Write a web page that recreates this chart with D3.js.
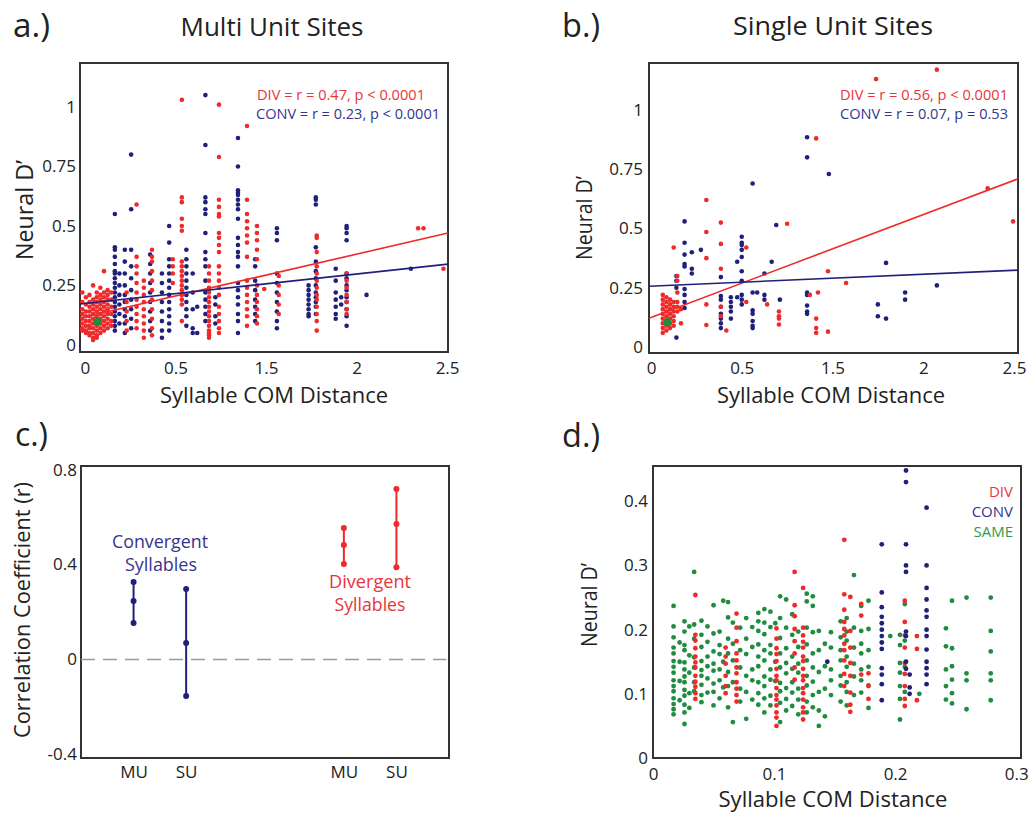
<!DOCTYPE html>
<html><head><meta charset="utf-8">
<script src="https://cdn.jsdelivr.net/npm/d3@7"></script>
<style>body{margin:0;background:#fff;} text{font-family:"Open Sans",sans-serif;fill:#222;}</style>
</head><body>
<script>
// ---------------- DATA ----------------
// Panels a & b: x is the tick-slot position on the COM-distance axis (labels below), y is Neural D'
const abXTicks = [0, 1, 2, 3, 4];
const abXTickLabels = ["0", "0.5", "1.5", "2", "2.5"];
const abYTicks = [0, 0.25, 0.5, 0.75, 1];
const abYTickLabels = ["0", "0.25", "0.5", "0.75", "1"];

// panel a (multi unit) columns: [x, [y values]]
const aDiv = [
  [-0.03,[0.22,0.18,0.15,0.13,0.11,0.09,0.07,0.06]],
  [0.01,[0.20,0.17,0.14,0.12,0.10,0.08,0.06,0.05]],
  [0.05,[0.21,0.18,0.16,0.14,0.12,0.10,0.08,0.07,0.05,0.04]],
  [0.09,[0.25,0.19,0.17,0.15,0.13,0.11,0.09,0.07,0.05,0.03,0.02]],
  [0.13,[0.22,0.20,0.18,0.16,0.14,0.12,0.10,0.08,0.06,0.04,0.03]],
  [0.17,[0.24,0.21,0.19,0.17,0.15,0.13,0.11,0.09,0.07,0.05]],
  [0.21,[0.31,0.22,0.20,0.18,0.16,0.14,0.12,0.10,0.08,0.06]],
  [0.25,[0.23,0.21,0.19,0.17,0.15,0.13,0.11,0.09,0.07]],
  [0.29,[0.22,0.19,0.16,0.13,0.10,0.08]],
  [0.46,[0.22,0.18,0.14,0.10,0.06]],
  [0.57,[0.59,0.37,0.33,0.30,0.26,0.22,0.19,0.16,0.13,0.10,0.07]],
  [0.65,[0.27,0.24,0.21,0.18,0.15,0.12,0.09,0.06,0.03]],
  [0.74,[0.40,0.37,0.35,0.31,0.27,0.23,0.19,0.15,0.11,0.07,0.04]],
  [0.97,[0.36,0.33,0.30,0.26]],
  [1.07,[1.03,0.62,0.60,0.53,0.50,0.48,0.35,0.33,0.31,0.29,0.27,0.25,0.23,0.21,0.19,0.17,0.10]],
  [1.37,[0.33,0.30,0.27,0.24,0.22,0.20,0.18,0.16,0.14,0.12,0.10,0.08,0.06,0.05,0.04,0.03]],
  [1.48,[1.01,0.79,0.61,0.58,0.55,0.54,0.47,0.45,0.42,0.39,0.33,0.30,0.27,0.24,0.21,0.16,0.13,0.10,0.07,0.05]],
  [1.79,[0.92,0.61,0.55,0.52,0.49,0.46,0.43,0.37,0.27,0.24,0.21,0.18,0.15,0.12,0.08]],
  [1.90,[0.50,0.47,0.44,0.40,0.36,0.25,0.21,0.18,0.15,0.12,0.09]],
  [1.98,[0.235]],
  [2.14,[0.29,0.25,0.21,0.17,0.13]],
  [2.56,[0.46,0.45,0.39,0.33,0.30,0.27,0.24,0.21,0.19,0.16,0.13,0.10,0.06]],
  [2.89,[0.30,0.27,0.24,0.21,0.18,0.15,0.13]],
  [3.68,[0.49]],
  [3.74,[0.49]],
  [3.96,[0.32]]
];
const aConv = [
  [0.33,[0.55,0.41,0.40,0.37,0.34,0.31,0.30,0.28,0.26,0.24,0.22,0.20,0.18,0.16,0.14,0.12,0.10,0.08,0.06]],
  [0.38,[0.30,0.25,0.21,0.17,0.13,0.09]],
  [0.44,[0.40,0.35,0.30,0.25,0.21,0.18,0.15,0.12,0.09,0.05]],
  [0.51,[0.80,0.57,0.40,0.33,0.28,0.23,0.19,0.15,0.11,0.07]],
  [0.72,[0.38,0.34,0.30,0.26,0.22,0.18,0.14,0.10,0.06]],
  [0.85,[0.30,0.26,0.22,0.18,0.14,0.10,0.06,0.03]],
  [0.93,[0.50,0.43,0.36,0.33,0.30,0.27,0.24,0.21,0.18,0.15,0.12,0.09,0.06]],
  [1.12,[0.40,0.36,0.33,0.30,0.27,0.24,0.21,0.18,0.15,0.12,0.08]],
  [1.19,[0.30,0.22,0.15,0.07,0.05]],
  [1.24,[0.16,0.05]],
  [1.33,[1.05,0.84,0.62,0.60,0.57,0.55,0.47,0.39,0.36,0.33,0.27,0.22,0.19,0.16,0.13,0.10]],
  [1.44,[0.20,0.17,0.12,0.09]],
  [1.69,[0.87,0.75,0.65,0.64,0.63,0.61,0.59,0.57,0.53,0.45,0.42,0.39,0.37,0.33,0.26,0.23,0.20,0.17,0.13,0.10,0.05]],
  [1.88,[0.36,0.33,0.27,0.23,0.19,0.16,0.13,0.10]],
  [2.12,[0.49,0.47,0.44,0.30,0.26,0.22,0.18,0.14,0.10,0.07]],
  [2.47,[0.25,0.23,0.21,0.19,0.17,0.15,0.13,0.12]],
  [2.55,[0.62,0.61,0.59,0.41,0.35,0.31,0.28,0.25,0.22,0.20,0.18,0.16,0.13]],
  [2.77,[0.32,0.27,0.22,0.19,0.16,0.13,0.11]],
  [2.83,[0.20,0.17]],
  [2.89,[0.50,0.49,0.47,0.44,0.30,0.28,0.25,0.23,0.20,0.18,0.15,0.12,0.08]],
  [3.11,[0.21]],
  [3.60,[0.32]]
];
const aSame = [[0.14,[0.097]]];
const aFitDiv = [0.118, 0.0878];   // [intercept, slope]
const aFitConv = [0.174, 0.0413];
const aStats = ["DIV = r = 0.47, p < 0.0001", "CONV = r = 0.23, p < 0.0001"];

// panel b (single unit)
const bDiv = [
  [0.13,[0.22,0.20,0.18,0.16,0.14,0.12,0.10,0.08,0.06]],
  [0.17,[0.21,0.19,0.17,0.15,0.13,0.11,0.09,0.07]],
  [0.21,[0.20,0.18,0.16,0.14,0.12,0.10,0.08]],
  [0.25,[0.42,0.19,0.17,0.15,0.13,0.11,0.09]],
  [0.29,[0.30,0.28,0.23,0.19,0.17,0.15]],
  [0.33,[0.16,0.10]],
  [0.61,[0.62,0.485,0.375,0.18,0.093]],
  [0.77,[0.525,0.435,0.33,0.17,0.13]],
  [0.83,[0.07]],
  [1.05,[0.42,0.19]],
  [1.28,[0.18]],
  [1.41,[0.15,0.13,0.12,0.095]],
  [1.50,[0.52]],
  [1.75,[0.22]],
  [1.82,[0.88,0.12,0.08,0.06]],
  [1.84,[0.23]],
  [1.95,[0.32,0.065]],
  [2.15,[0.27]],
  [2.48,[1.13]],
  [3.15,[1.17]],
  [3.71,[0.67]],
  [3.99,[0.53]]
];
const bConv = [
  [0.28,[0.30,0.28,0.25,0.04]],
  [0.37,[0.53,0.44,0.39,0.35,0.34,0.245,0.22,0.19,0.165]],
  [0.45,[0.40,0.33,0.31]],
  [0.55,[0.41]],
  [0.77,[0.295,0.215,0.20,0.17,0.14,0.12,0.10,0.08]],
  [0.88,[0.21,0.19,0.17,0.15,0.12]],
  [0.95,[0.36,0.21]],
  [1.00,[0.465,0.44,0.43,0.41,0.38,0.32,0.28,0.22,0.20,0.18]],
  [1.12,[0.69,0.23,0.155,0.14,0.11,0.09,0.08]],
  [1.17,[0.23]],
  [1.25,[0.31,0.22,0.20]],
  [1.33,[0.36]],
  [1.38,[0.515]],
  [1.42,[0.20]],
  [1.72,[0.885,0.80,0.23,0.22,0.175,0.15,0.14]],
  [1.96,[0.73]],
  [2.50,[0.18,0.13]],
  [2.59,[0.355,0.12]],
  [2.80,[0.23,0.20]],
  [3.15,[0.26]]
];
const bSame = [[0.18,[0.105]]];
const bFitDiv = [0.125, 0.1446];
const bFitConv = [0.257, 0.0167];
const bStats = ["DIV = r = 0.56, p < 0.0001", "CONV = r = 0.07, p = 0.53"];

// panel c: correlation coefficients with confidence intervals
const cLabels = ["MU", "SU", "MU", "SU"];
const cPos = [1, 2, 5, 6];
const cType = ["conv", "conv", "div", "div"];
const cLow = [0.154, -0.154, 0.402, 0.389];
const cMid = [0.246, 0.069, 0.482, 0.571];
const cHigh = [0.326, 0.297, 0.554, 0.718];
const cYTicks = [-0.4, 0, 0.4, 0.8];
const cYTickLabels = ["-0.4", "0", "0.4", "0.8"];

// panel d: small COM distances
const dXTicks = [0, 0.1, 0.2, 0.3];
const dYTicks = [0, 0.1, 0.2, 0.3, 0.4];
const dSame = [
  [0.017,[0.237,0.205,0.188,0.172,0.163,0.151,0.142,0.133,0.121,0.112,0.104,0.093,0.084,0.076,0.068]],
  [0.022,[0.18,0.15,0.12,0.09]],
  [0.026,[0.213,0.197,0.176,0.168,0.149,0.138,0.127,0.118,0.106,0.097,0.083,0.071,0.053]],
  [0.030,[0.205,0.16,0.133,0.101,0.078]],
  [0.034,[0.29,0.208,0.186,0.157,0.141,0.118,0.104]],
  [0.040,[0.214,0.192,0.173,0.151,0.137,0.128,0.114,0.098,0.087]],
  [0.045,[0.205,0.181,0.158,0.143,0.124,0.102]],
  [0.050,[0.238,0.194,0.166,0.147,0.136,0.116,0.103,0.082]],
  [0.055,[0.197,0.176,0.162,0.138,0.121,0.093]],
  [0.058,[0.245,0.15,0.11]],
  [0.062,[0.243,0.219,0.186,0.163,0.134,0.112,0.079]],
  [0.066,[0.211,0.178,0.152,0.118,0.056]],
  [0.072,[0.203,0.168,0.141,0.108,0.088]],
  [0.077,[0.218,0.186,0.162,0.128,0.103,0.061]],
  [0.082,[0.204,0.173,0.138,0.121,0.091]],
  [0.087,[0.226,0.213,0.198,0.177,0.158,0.143,0.118,0.101,0.083]],
  [0.092,[0.232,0.211,0.193,0.168,0.152,0.127,0.112,0.093,0.071]],
  [0.097,[0.228,0.204,0.176,0.163,0.138,0.122,0.097,0.082]],
  [0.101,[0.21,0.15,0.12]],
  [0.105,[0.252,0.218,0.187,0.163,0.141,0.117,0.104,0.086,0.056]],
  [0.110,[0.247,0.203,0.171,0.148,0.132,0.109,0.092,0.074]],
  [0.115,[0.224,0.192,0.158,0.139,0.118,0.102,0.081]],
  [0.120,[0.197,0.173,0.147,0.133,0.108,0.091,0.068]],
  [0.127,[0.256,0.244,0.203,0.177,0.152,0.128,0.113,0.088,0.071]],
  [0.132,[0.252,0.237,0.196,0.163,0.141,0.119,0.098,0.079]],
  [0.137,[0.198,0.168,0.134,0.103,0.074,0.05]],
  [0.142,[0.178,0.143,0.108,0.065]],
  [0.147,[0.196,0.172,0.138,0.121,0.098]],
  [0.155,[0.213,0.188,0.168,0.152,0.128,0.113,0.088]],
  [0.160,[0.218,0.197,0.183,0.158,0.142,0.118,0.103,0.082]],
  [0.166,[0.285,0.203,0.172,0.147,0.127,0.098]],
  [0.172,[0.237,0.198,0.178,0.163,0.138,0.121,0.102]],
  [0.178,[0.245,0.201,0.168,0.142,0.113,0.078]],
  [0.196,[0.19]],
  [0.204,[0.192,0.176,0.148,0.133,0.112,0.092,0.06]],
  [0.208,[0.24,0.183,0.142,0.103]],
  [0.220,[0.10]],
  [0.242,[0.202,0.174,0.138,0.112,0.091]],
  [0.247,[0.245,0.171,0.143,0.122,0.101,0.085]],
  [0.259,[0.25,0.132,0.121,0.076]],
  [0.279,[0.25,0.198,0.166,0.132,0.121,0.09]]
];
const dDiv = [
  [0.035,[0.254,0.192,0.183,0.171,0.158,0.149,0.141,0.128,0.119,0.111,0.101,0.092]],
  [0.060,[0.172,0.158,0.147,0.128,0.112,0.101]],
  [0.069,[0.225,0.203,0.182,0.163,0.152,0.141,0.132,0.118,0.108,0.098,0.088]],
  [0.102,[0.202,0.186,0.171,0.162,0.151,0.139,0.128,0.121,0.109,0.098,0.091,0.082,0.071,0.063,0.05]],
  [0.117,[0.29,0.238,0.221,0.201,0.182,0.163,0.141,0.122]],
  [0.124,[0.265,0.203,0.191,0.181,0.172,0.158,0.151,0.139,0.128,0.121,0.109,0.101,0.091,0.079,0.071,0.06]],
  [0.158,[0.34,0.255,0.231,0.212,0.201,0.191,0.178,0.168,0.152,0.131,0.112]],
  [0.163,[0.251,0.198,0.172,0.148,0.128,0.102,0.083,0.072]],
  [0.172,[0.24,0.222,0.13]],
  [0.178,[0.132,0.112,0.092]],
  [0.208,[0.245,0.212,0.191,0.172,0.148,0.131,0.112,0.092,0.081]],
  [0.218,[0.19,0.17,0.09]]
];
const dConv = [
  [0.144,[0.15]],
  [0.189,[0.333,0.258,0.235,0.22,0.21,0.20,0.19,0.18,0.17,0.14,0.13,0.115,0.09]],
  [0.209,[0.448,0.43,0.333,0.30,0.29,0.197,0.19,0.15,0.139]],
  [0.212,[0.13,0.11,0.10]],
  [0.226,[0.39,0.30,0.265,0.247,0.23,0.22,0.20,0.19,0.169,0.15,0.14,0.13,0.115]]
];
const dLegend = ["DIV", "CONV", "SAME"];

// ---------------- DRAWING ----------------
const COL = {div: "#ee2a2a", conv: "#20207a", same: "#1f8c3f"};
const TXT = {div: "#e8353b", conv: "#35358f", same: "#2f9a4f"};
const svg = d3.select("body").append("svg").attr("width", 1030).attr("height", 814);

function txt(str, x, y, o = {}) {
  const t = svg.append("text").attr("x", x).attr("y", y).text(str)
    .style("font-size", (o.size || 16) + "px")
    .attr("text-anchor", o.anchor || "start");
  if (o.color) t.style("fill", o.color);
  if (o.len) t.attr("textLength", o.len).attr("lengthAdjust", "spacingAndGlyphs");
  if (o.rot) t.attr("transform", `rotate(-90,${x},${y})`);
  return t;
}
const flat = cols => cols.flatMap(([x, ys]) => ys.map(y => ({x, y})));

function frameAxes(g, x, y, o) {
  const [x0, x1] = x.range(), [y0, y1] = y.range();
  const xa = d3.axisBottom(x).tickValues(o.xTicks).tickFormat((d, i) => o.xLabels[i]).tickSize(0);
  g.append("g").attr("transform", `translate(0,${y0})`).call(xa)
    .call(s => s.select(".domain").remove())
    .selectAll("text").attr("dy", null).attr("y", o.xOff).style("font-size", o.tickSize + "px").style("fill", "#222");
  const ya = d3.axisLeft(y).tickValues(o.yTicks).tickFormat((d, i) => o.yLabels[i]).tickSize(0).tickPadding(o.yPad);
  g.append("g").attr("transform", `translate(${x0},0)`).call(ya)
    .call(s => s.select(".domain").remove())
    .selectAll("text").style("font-size", o.tickSize + "px").style("fill", "#222");
  g.append("rect").attr("x", x0).attr("y", y1).attr("width", x1 - x0).attr("height", y0 - y1)
    .attr("fill", "none").attr("stroke", "#333").attr("stroke-width", 2);
}

function dots(g, x, y, pts, color, r) {
  g.append("g").selectAll("circle").data(pts).join("circle")
    .attr("cx", d => x(d.x)).attr("cy", d => y(d.y)).attr("r", r).attr("fill", color);
}

function scatterPanel(o) {
  const g = svg.append("g");
  const x = d3.scaleLinear().domain(o.xDom).range(o.xRange);
  const y = d3.scaleLinear().domain(o.yDom).range(o.yRange);
  frameAxes(g, x, y, o);
  dots(g, x, y, flat(o.conv), COL.conv, 2.3);
  dots(g, x, y, flat(o.div), COL.div, 2.3);
  const line = d3.line().x(d => x(d[0])).y(d => y(d[1]));
  [[o.fitDiv, COL.div], [o.fitConv, COL.conv]].forEach(([f, c]) => {
    const xs = x.domain();
    g.append("path").datum(xs.map(v => [v, f[0] + f[1] * v])).attr("d", line)
      .attr("fill", "none").attr("stroke", c).attr("stroke-width", 1.6);
  });
  dots(g, x, y, flat(o.same), COL.same, 4.2);
  return {x, y};
}

// panel a
scatterPanel({xDom: [-0.055, 4.01], xRange: [80, 448], yDom: [-0.03, 1.185], yRange: [352, 63],
  xTicks: abXTicks, xLabels: abXTickLabels, yTicks: abYTicks, yLabels: abYTickLabels,
  xOff: 22, yPad: 4, tickSize: 17, div: aDiv, conv: aConv, same: aSame, fitDiv: aFitDiv, fitConv: aFitConv});
// panel b
scatterPanel({xDom: [-0.022, 4.044], xRange: [649, 1018], yDom: [-0.025, 1.198], yRange: [353, 63],
  xTicks: abXTicks, xLabels: abXTickLabels, yTicks: abYTicks, yLabels: abYTickLabels,
  xOff: 21, yPad: 6, tickSize: 17, div: bDiv, conv: bConv, same: bSame, fitDiv: bFitDiv, fitConv: bFitConv});

// panel c
{
  const g = svg.append("g");
  const x = d3.scaleLinear().domain([0, 7]).range([81, 449]);
  const y = d3.scaleLinear().domain([-0.415, 0.815]).range([758, 466]);
  frameAxes(g, x, y, {xTicks: cPos, xLabels: cLabels, yTicks: cYTicks, yLabels: cYTickLabels, xOff: 20, yPad: 4, tickSize: 17});
  g.append("line").attr("x1", x(0)).attr("x2", x(6.95)).attr("y1", y(0)).attr("y2", y(0))
    .attr("stroke", "#9a9a9a").attr("stroke-width", 1.6).attr("stroke-dasharray", "14,8");
  cPos.forEach((p, i) => {
    const c = COL[cType[i]];
    g.append("line").attr("x1", x(p)).attr("x2", x(p)).attr("y1", y(cLow[i])).attr("y2", y(cHigh[i]))
      .attr("stroke", c).attr("stroke-width", 2);
    [cLow[i], cMid[i], cHigh[i]].forEach(v =>
      g.append("circle").attr("cx", x(p)).attr("cy", y(v)).attr("r", 3).attr("fill", c));
  });
}

// panel d
{
  const g = svg.append("g");
  const x = d3.scaleLinear().domain([0, 0.304]).range([653, 1021]);
  const y = d3.scaleLinear().domain([0, 0.455]).range([758, 466]);
  frameAxes(g, x, y, {xTicks: dXTicks, xLabels: dXTicks.map(d3.format("")), yTicks: dYTicks,
    yLabels: dYTicks.map(d3.format("")), xOff: 22, yPad: 5, tickSize: 17});
  dots(g, x, y, flat(dSame), COL.same, 2.4);
  dots(g, x, y, flat(dDiv), COL.div, 2.4);
  dots(g, x, y, flat(dConv), COL.conv, 2.4);
  const lc = [TXT.div, TXT.conv, TXT.same];
  dLegend.forEach((s, i) => txt(s, 1013, 497 + i * 20, {size: 15, anchor: "end", color: lc[i]}));
}

// ---------------- TEXT ----------------
txt("a.)", 13, 37, {size: 32, len: 37});
txt("b.)", 562, 37, {size: 32, len: 38});
txt("c.)", 15, 446, {size: 32, len: 33});
txt("d.)", 562, 447, {size: 32, len: 38});
txt("Multi Unit Sites", 272, 36, {size: 25, anchor: "middle", len: 183});
txt("Single Unit Sites", 833, 35, {size: 25, anchor: "middle", len: 200});
txt("Syllable COM Distance", 274, 403, {size: 22, anchor: "middle", len: 228});
txt("Syllable COM Distance", 831, 403, {size: 22, anchor: "middle", len: 228});
txt("Syllable COM Distance", 833, 807, {size: 22, anchor: "middle", len: 229});
txt("Neural D\u2019", 33, 210, {size: 23, anchor: "middle", len: 100, rot: true});
txt("Neural D\u2019", 592, 218, {size: 21, anchor: "middle", len: 84, rot: true});
txt("Neural D\u2019", 597, 605, {size: 21, anchor: "middle", len: 84, rot: true});
txt("Correlation Coefficient (r)", 30, 610, {size: 22, anchor: "middle", len: 256, rot: true});
txt(aStats[0], 257, 100, {size: 15, len: 168, color: TXT.div});
txt(aStats[1], 256, 119, {size: 15, len: 184, color: TXT.conv});
txt(bStats[0], 840, 100, {size: 15, len: 168, color: TXT.div});
txt(bStats[1], 840, 119, {size: 15, len: 168, color: TXT.conv});
txt("Convergent", 160, 548, {size: 18, anchor: "middle", len: 96, color: TXT.conv});
txt("Syllables", 161, 571, {size: 18, anchor: "middle", len: 72, color: TXT.conv});
txt("Divergent", 370, 588, {size: 18, anchor: "middle", len: 82, color: TXT.div});
txt("Syllables", 370, 611, {size: 18, anchor: "middle", len: 71, color: TXT.div});
</script>
</body></html>
